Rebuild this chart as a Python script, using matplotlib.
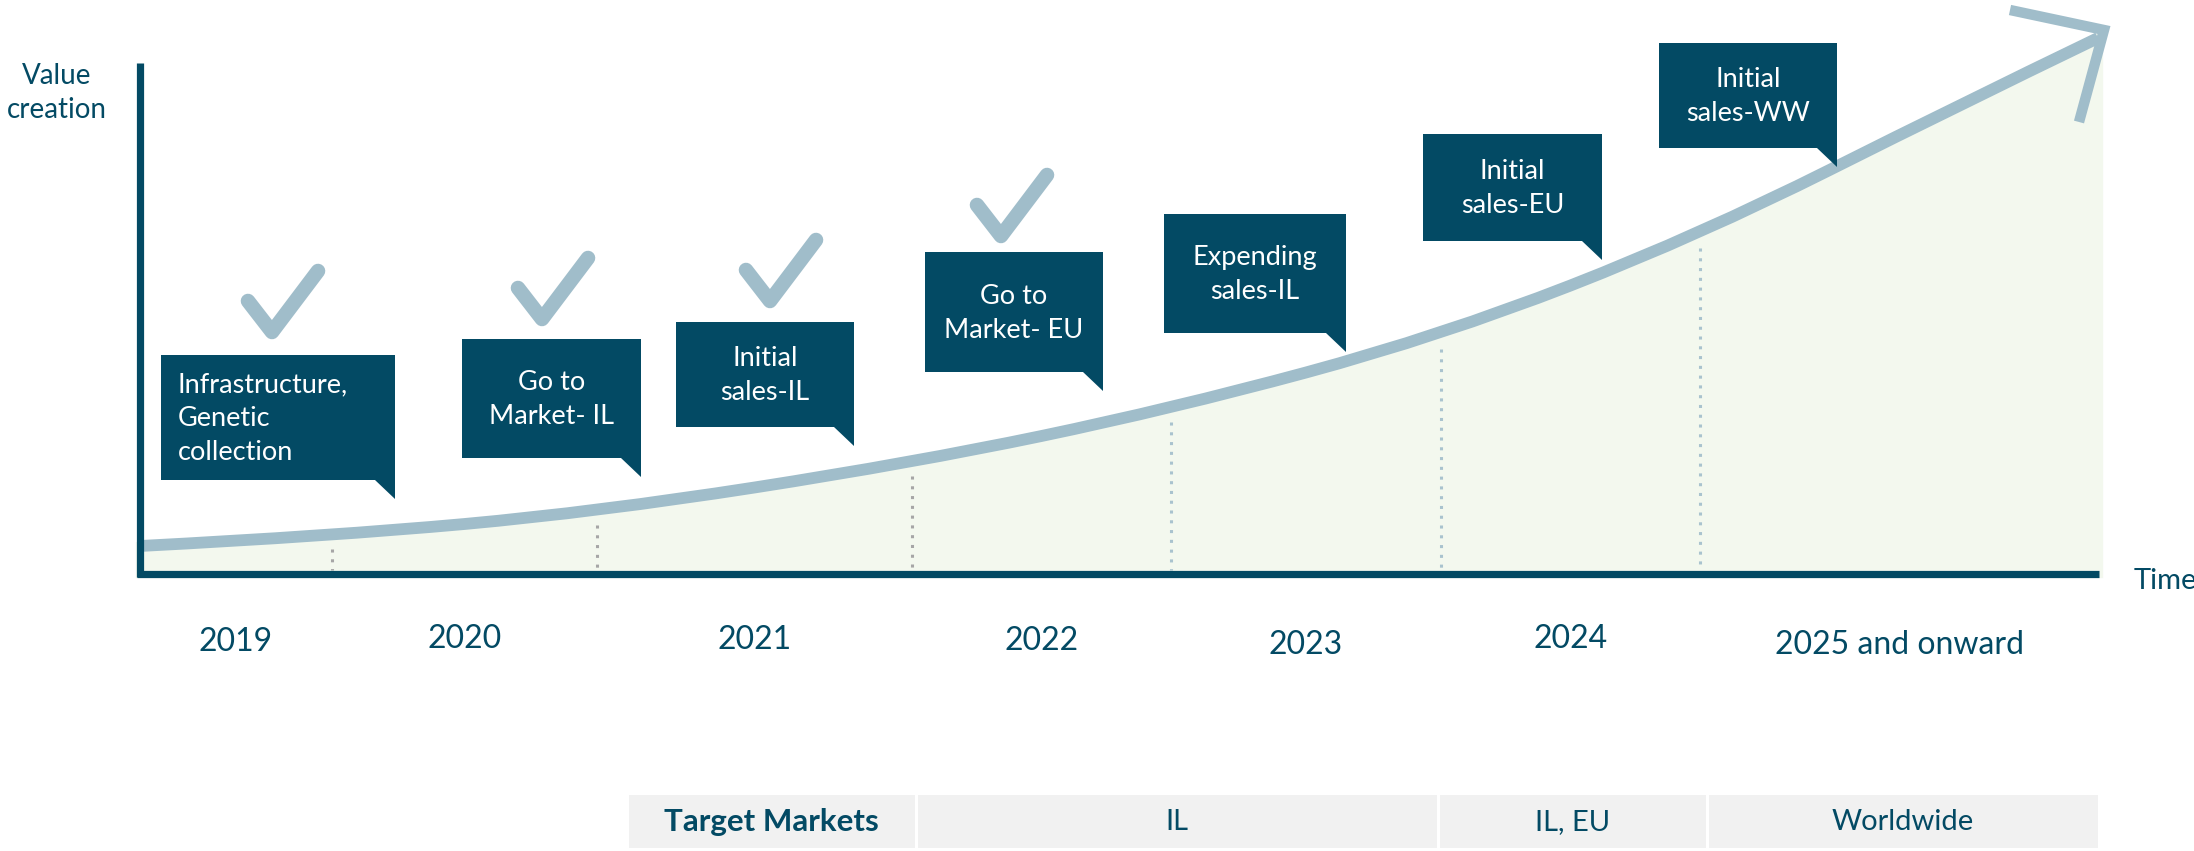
import matplotlib
matplotlib.use('Agg')
import matplotlib.pyplot as plt
from matplotlib.path import Path
from matplotlib.patches import PathPatch, Polygon, Rectangle

plt.rcParams['font.family'] = ['Lato', 'DejaVu Sans']

# ---- data ----
years = ['2019', '2020', '2021', '2022', '2023', '2024', '2025 and onward']
milestones = ['Infrastructure,\nGenetic\ncollection', 'Go to\nMarket- IL', 'Initial\nsales-IL',
              'Go to\nMarket- EU', 'Expending\nsales-IL', 'Initial\nsales-EU', 'Initial\nsales-WW']
milestone_done = [True, True, True, True, False, False, False]
market_header = 'Target Markets'
markets = ['IL', 'IL, EU', 'Worldwide']
# value creation curve (height above the time axis, px) at the year boundaries
curve_t = [140, 332, 597, 912, 1171, 1441, 1700, 1959, 2098]
curve_v = [28, 38, 62, 111, 165, 238, 339, 469, 536]

# ---- layout (pixels) ----
W, H = 2194, 851
AX_X, AX_Y = 140, 574
DARK = '#034a64'
LIGHT = '#a0bdca'
FILL = '#f3f8ee'
bounds = [140, 332, 597, 912, 1171, 1441, 1700, 2099]
year_y = [642, 639, 640, 641, 645, 639, 645]
boxes = [(161, 395, 355, 480), (462, 641, 339, 458), (676, 854, 322, 427), (925, 1103, 252, 372),
         (1164, 1346, 214, 333), (1423, 1602, 134, 241), (1659, 1837, 43, 148)]
checks = [(248, 301), (518, 288), (746, 270), (977, 205)]
dot_colors = ['#a6a6a6', '#a6a6a6', '#a6a6a6', '#a9c3ce', '#a9c3ce', '#a9c3ce']
table_cols = [627, 916, 1438, 1707, 2099]
table_y0, table_y1 = 795, 848

fig = plt.figure(figsize=(W / 100, H / 100), dpi=100)
ax = fig.add_axes([0, 0, 1, 1])
ax.set_xlim(0, W)
ax.set_ylim(H, 0)
ax.axis('off')

# smooth curve through control points
pts = [(t, AX_Y - v) for t, v in zip(curve_t, curve_v)]
verts = [pts[0]]
codes = [Path.MOVETO]
for i in range(1, len(pts) - 1):
    nxt = pts[i + 1] if i + 1 == len(pts) - 1 else ((pts[i][0] + pts[i + 1][0]) / 2, (pts[i][1] + pts[i + 1][1]) / 2)
    verts += [pts[i], nxt]
    codes += [Path.CURVE3, Path.CURVE3]

fill_path = Path(verts + [(2099, pts[-1][1] + 6), (2099, AX_Y), (AX_X, AX_Y), (AX_X, AX_Y)],
                 codes + [Path.LINETO, Path.LINETO, Path.LINETO, Path.CLOSEPOLY])
ax.add_patch(PathPatch(fill_path, facecolor=FILL, edgecolor=FILL, lw=6, zorder=1))

curve = Path(verts, codes)
ax.add_patch(PathPatch(curve, facecolor='none', edgecolor=LIGHT, lw=8.5, capstyle='butt', zorder=3))
# arrow head
ax.plot([2010, 2104, 2079], [10, 30, 122], color=LIGHT, lw=7.5, solid_joinstyle='miter',
        solid_capstyle='butt', zorder=3)

# dotted separators under the curve
curve_line = curve.interpolated(60).vertices
for b, c in zip(bounds[1:-1], dot_colors):
    top = min(curve_line, key=lambda p: abs(p[0] - b))[1] + 13
    ax.plot([b, b], [top, AX_Y - 4], color=c, lw=2.2, ls=(0, (1, 2.2)), zorder=2)

# axes
ax.plot([AX_X, AX_X], [63, AX_Y + 3], color=DARK, lw=5.2, solid_capstyle='butt', zorder=4)
ax.plot([AX_X - 3, 2099], [AX_Y, AX_Y], color=DARK, lw=5.2, solid_capstyle='butt', zorder=4)
ax.text(57, 93, 'Value\ncreation', ha='center', va='center', fontsize=20, color=DARK, linespacing=1.35)
ax.text(2134, 581, 'Time', ha='left', va='center', fontsize=21, color=DARK)

# years
for i, y in enumerate(years):
    ax.text((bounds[i] + bounds[i + 1]) / 2, year_y[i], y, ha='center', va='center', fontsize=23, color=DARK)

# milestone boxes
tw, th = 20, 19
for (x0, x1, y0, y1), label, in zip(boxes, milestones):
    poly = [(x0, y0), (x1, y0), (x1, y1 + th), (x1 - tw, y1), (x0, y1)]
    ax.add_patch(Polygon(poly, closed=True, facecolor=DARK, edgecolor='none', zorder=5))
    if label.startswith('Infra'):
        ax.text(x0 + 17, (y0 + y1) / 2 + 1, label, ha='left', va='center', fontsize=19.5,
                color='white', linespacing=1.45, zorder=6)
    else:
        ax.text((x0 + x1) / 2, (y0 + y1) / 2 + 1, label, ha='center', va='center', fontsize=19.5,
                color='white', linespacing=1.45, zorder=6)

# check marks over completed milestones
for (cx, cy), done in zip(checks, [d for d in milestone_done if d]):
    ax.plot([cx, cx + 24, cx + 70], [cy, cy + 31, cy - 30], color=LIGHT, lw=10.5,
            solid_capstyle='round', solid_joinstyle='round', zorder=5)

# target markets table
labels = [market_header] + markets
for i, lab in enumerate(labels):
    xa, xb = table_cols[i], table_cols[i + 1]
    ax.add_patch(Rectangle((xa + 1.5, table_y0), xb - xa - 3, table_y1 - table_y0,
                           facecolor='#f1f1f1', edgecolor='none', zorder=1))
    ax.text((xa + xb) / 2, (table_y0 + table_y1) / 2 + 1, lab, ha='center', va='center',
            fontsize=22.5 if i == 0 else 21, color=DARK, fontweight='bold' if i == 0 else 'normal')

fig.savefig('out.png', dpi=100, facecolor='white')
